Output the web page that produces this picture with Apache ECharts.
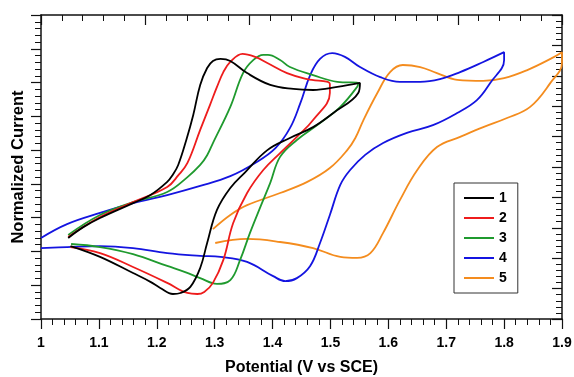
<!DOCTYPE html>
<html>
<head>
<meta charset="utf-8">
<script src="https://cdn.jsdelivr.net/npm/echarts@6/dist/echarts.min.js"></script>
<style>
  html, body { margin: 0; padding: 0; background: #fff; }
  #chart { width: 574px; height: 377px; }
</style>
</head>
<body>
<div id="chart"></div>
<script>
// Cyclic voltammograms: [potential (V vs SCE), normalized current]
// Each scan runs forward to the switching potential and then back.
const scan1 = [
  [1.047, 2.40], [1.073, 2.72], [1.102, 2.99], [1.159, 3.43], [1.189, 3.67], [1.218, 4.06],
  [1.228, 4.28], [1.237, 4.56], [1.251, 5.30], [1.263, 6.04], [1.275, 6.93], [1.287, 7.43],
  [1.297, 7.64], [1.310, 7.70], [1.327, 7.64], [1.356, 7.28], [1.396, 6.93], [1.436, 6.81],
  [1.470, 6.78], [1.512, 6.87], [1.551, 6.99],
  [1.548, 6.69], [1.505, 6.10], [1.470, 5.68], [1.430, 5.36], [1.391, 5.00], [1.353, 4.35],
  [1.327, 3.88], [1.304, 3.23], [1.287, 2.25], [1.275, 1.51], [1.258, 0.95], [1.241, 0.77],
  [1.228, 0.74], [1.206, 0.92], [1.189, 1.10], [1.159, 1.36], [1.102, 1.84], [1.051, 2.16]
];
const scan2 = [
  [1.047, 2.43], [1.102, 3.02], [1.159, 3.46], [1.218, 3.91], [1.237, 4.25], [1.253, 4.62],
  [1.275, 5.60], [1.292, 6.34], [1.304, 6.87], [1.315, 7.31], [1.327, 7.61], [1.348, 7.85],
  [1.370, 7.76], [1.391, 7.58], [1.425, 7.28], [1.460, 7.10], [1.499, 6.96],
  [1.499, 6.69], [1.470, 5.89], [1.442, 5.39], [1.413, 4.91], [1.384, 4.41], [1.356, 3.73],
  [1.332, 2.84], [1.315, 1.75], [1.297, 1.07], [1.282, 0.80], [1.270, 0.74], [1.253, 0.77],
  [1.218, 1.07], [1.159, 1.54], [1.102, 1.95], [1.051, 2.13]
];
const scan3 = [
  [1.047, 2.49], [1.102, 3.08], [1.159, 3.46], [1.218, 3.76], [1.253, 4.20], [1.275, 4.56],
  [1.287, 4.85], [1.297, 5.21], [1.327, 6.28], [1.349, 7.28], [1.367, 7.67], [1.384, 7.82],
  [1.392, 7.82], [1.413, 7.67], [1.430, 7.46], [1.470, 7.22], [1.512, 7.02], [1.548, 6.99],
  [1.546, 6.87], [1.517, 6.28], [1.482, 5.80], [1.442, 5.30], [1.413, 4.80], [1.396, 4.03],
  [1.379, 3.32], [1.361, 2.55], [1.344, 1.75], [1.327, 1.15], [1.304, 1.04], [1.275, 1.21],
  [1.249, 1.39], [1.218, 1.57], [1.159, 1.92], [1.102, 2.13], [1.052, 2.22]
];
const scan4 = [
  [1.000, 2.40], [1.045, 2.81], [1.102, 3.14], [1.159, 3.43], [1.218, 3.67], [1.275, 3.94],
  [1.327, 4.23], [1.370, 4.62], [1.405, 5.06], [1.430, 5.65], [1.448, 6.39], [1.465, 7.22],
  [1.482, 7.70], [1.503, 7.87], [1.525, 7.76], [1.551, 7.46], [1.586, 7.16], [1.620, 7.02],
  [1.655, 7.02], [1.689, 7.10], [1.724, 7.31], [1.764, 7.61], [1.800, 7.90],
  [1.800, 7.67], [1.776, 6.99], [1.753, 6.48], [1.719, 6.10], [1.677, 5.74], [1.632, 5.51],
  [1.591, 5.21], [1.560, 4.86], [1.534, 4.41], [1.517, 3.97], [1.499, 3.08], [1.482, 2.25],
  [1.465, 1.57], [1.442, 1.21], [1.422, 1.12], [1.401, 1.27], [1.356, 1.69], [1.310, 1.84],
  [1.275, 1.87], [1.218, 1.95], [1.159, 2.10], [1.102, 2.16], [1.045, 2.13], [1.000, 2.10]
];
const scan5 = [
  [1.297, 2.66], [1.327, 3.08], [1.356, 3.37], [1.413, 3.73], [1.460, 4.06], [1.499, 4.47],
  [1.529, 5.00], [1.543, 5.36], [1.557, 5.89], [1.581, 6.69], [1.603, 7.31], [1.625, 7.52],
  [1.655, 7.46], [1.684, 7.28], [1.719, 7.08], [1.764, 7.05], [1.800, 7.13], [1.840, 7.37],
  [1.880, 7.70], [1.900, 7.90],
  [1.900, 7.58], [1.880, 6.99], [1.845, 6.28], [1.805, 5.95], [1.764, 5.68], [1.724, 5.39],
  [1.684, 5.09], [1.650, 4.41], [1.620, 3.52], [1.591, 2.55], [1.569, 1.95], [1.546, 1.81],
  [1.517, 1.84], [1.470, 2.10], [1.413, 2.28], [1.356, 2.37], [1.301, 2.25]
];

const seriesNames = ['1', '2', '3', '4', '5'];
const seriesColors = ['#000000', '#ee1c1c', '#1f9a2e', '#1414e0', '#f48c1e'];
const scans = [scan1, scan2, scan3, scan4, scan5];

const axisColor = '#111';
const fontFamily = '"Liberation Sans", Arial, Helvetica, sans-serif';

function frameAxis(extra) {
  return Object.assign({
    type: 'value',
    axisLine: { show: true, onZero: false, lineStyle: { color: axisColor, width: 1.5 } },
    splitLine: { show: false },
    minorSplitLine: { show: false },
    axisLabel: { show: false },
    axisTick: { show: true, length: 10, lineStyle: { color: axisColor, width: 1.2 } },
    minorTick: { show: true, splitNumber: 5, length: 6, lineStyle: { color: axisColor, width: 1 } }
  }, extra);
}

const chart = echarts.init(document.getElementById('chart'), null, { renderer: 'canvas' });

chart.setOption({
  animation: false,
  backgroundColor: '#ffffff',
  textStyle: { fontFamily: fontFamily },
  grid: { left: 41, right: 12, top: 15, bottom: 58, containLabel: false, outerBoundsMode: 'none' },
  legend: {
    orient: 'vertical',
    left: 454,
    top: 183,
    data: seriesNames,
    icon: 'rect',
    itemWidth: 30,
    itemHeight: 2,
    itemGap: 6,
    padding: [8, 11, 8, 10],
    borderColor: '#333',
    borderWidth: 1,
    backgroundColor: '#fff',
    textStyle: { fontFamily: fontFamily, fontSize: 14, fontWeight: 'bold', color: '#000', lineHeight: 14, padding: [0, 0, 0, 0] }
  },
  xAxis: [
    frameAxis({
      position: 'bottom',
      min: 1, max: 1.9, interval: 0.1,
      axisTick: { show: true, inside: false, length: 10, lineStyle: { color: axisColor, width: 1.2 } },
      minorTick: { show: true, splitNumber: 5, length: 6, lineStyle: { color: axisColor, width: 1 } },
      axisLabel: {
        show: true, margin: 17, color: '#000', fontSize: 14, fontWeight: 'bold', fontFamily: fontFamily,
        formatter: function (v) { return String(Math.round(v * 10) / 10); }
      },
      name: 'Potential (V vs SCE)',
      nameLocation: 'middle',
      nameGap: 41,
      nameTextStyle: { color: '#000', fontSize: 16, fontWeight: 'bold', fontFamily: fontFamily }
    }),
    frameAxis({
      position: 'top',
      min: 0, max: 5, interval: 1,
      axisTick: { show: true, inside: true, length: 10, lineStyle: { color: axisColor, width: 1.2 } },
      minorTick: { show: true, splitNumber: 5, length: 6, lineStyle: { color: axisColor, width: 1 } }
    })
  ],
  yAxis: [
    frameAxis({
      position: 'left',
      min: 0, max: 9, interval: 1,
      axisTick: { show: true, inside: false, length: 10, lineStyle: { color: axisColor, width: 1.2 } },
      name: 'Normalized Current',
      nameLocation: 'middle',
      nameGap: 14,
      nameRotate: 90,
      nameTextStyle: { color: '#000', fontSize: 16.5, fontWeight: 'bold', fontFamily: fontFamily }
    }),
    frameAxis({
      position: 'right',
      min: 0, max: 10, interval: 1,
      axisTick: { show: true, inside: true, length: 10, lineStyle: { color: axisColor, width: 1.2 } }
    })
  ],
  series: scans.map(function (scan, i) {
    return {
      name: seriesNames[i],
      type: 'line',
      xAxisIndex: 0,
      yAxisIndex: 0,
      data: scan,
      showSymbol: false,
      symbol: 'none',
      smooth: 0.4,
      color: seriesColors[i],
      lineStyle: { color: seriesColors[i], width: 1.8 },
      z: 10 - i
    };
  })
});
</script>
</body>
</html>
